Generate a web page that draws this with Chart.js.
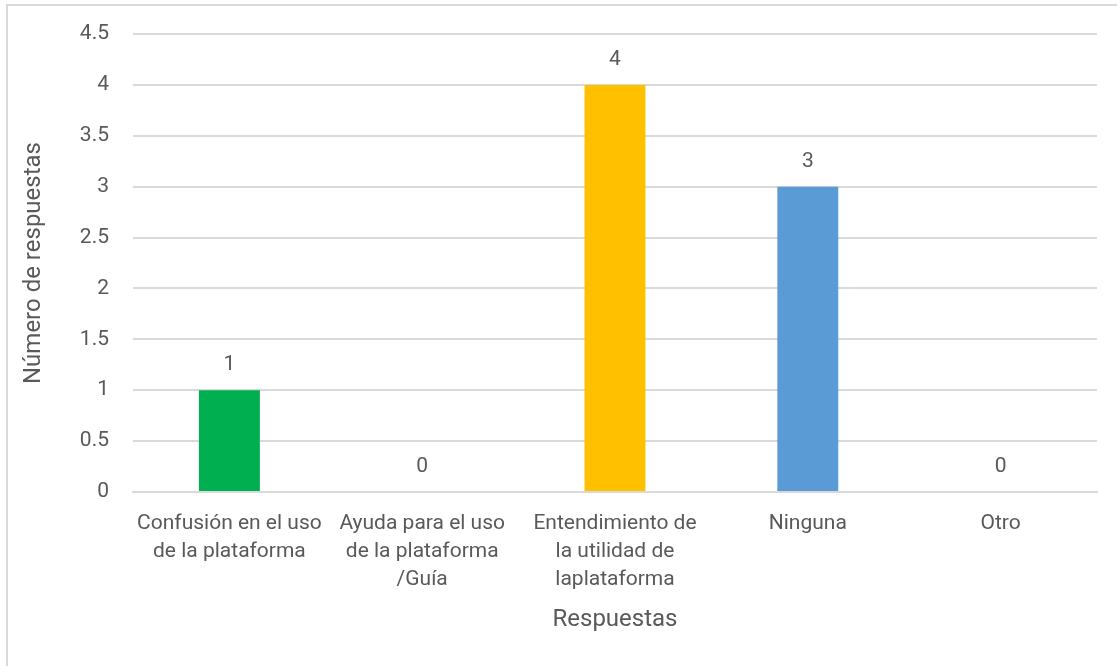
<!DOCTYPE html>
<html>
<head>
<meta charset="utf-8">
<script src="https://cdn.jsdelivr.net/npm/chart.js@4.4.1/dist/chart.umd.min.js"></script>
<style>
  html, body { margin: 0; padding: 0; background: #fff; }
  #wrap { position: relative; width: 1117px; height: 666px; }
</style>
</head>
<body>
<div id="wrap"><canvas id="respChart" width="1117" height="666"></canvas></div>
<script>
// data
const categories = [
  ['Confusión en el uso', 'de la plataforma'],
  ['Ayuda para el uso', 'de la plataforma', '/Guía'],
  ['Entendimiento de', 'la utilidad de', 'laplataforma'],
  'Ninguna',
  'Otro'
];
const respuestas = [1, 0, 4, 3, 0];
const barColors = ['#00B050', '#00B050', '#FFC000', '#5B9BD5', '#5B9BD5'];
const yTicks = [0, 0.5, 1, 1.5, 2, 2.5, 3, 3.5, 4, 4.5];

const textColor = '#595959';
const fontFamily = 'Roboto, "DejaVu Sans Condensed", Arial, sans-serif';

// grey frame on the top and left edge, like the cropped Excel chart
const framePlugin = {
  id: 'frame',
  beforeDraw(chart) {
    const ctx = chart.ctx;
    ctx.save();
    ctx.fillStyle = '#fff';
    ctx.fillRect(0, 0, chart.width, chart.height);
    ctx.strokeStyle = '#d9d9d9';
    ctx.lineWidth = 2;
    ctx.beginPath();
    ctx.moveTo(7, chart.height);
    ctx.lineTo(7, 5);
    ctx.lineTo(chart.width, 5);
    ctx.stroke();
    ctx.restore();
  }
};

// value labels above each bar
const valueLabels = {
  id: 'valueLabels',
  afterDatasetsDraw(chart) {
    const ctx = chart.ctx;
    const meta = chart.getDatasetMeta(0);
    ctx.save();
    ctx.fillStyle = textColor;
    ctx.font = '21px ' + fontFamily;
    ctx.textAlign = 'center';
    ctx.textBaseline = 'middle';
    meta.data.forEach((bar, i) => {
      ctx.fillText(String(respuestas[i]), bar.x, bar.y - 25);
    });
    ctx.restore();
  }
};

new Chart(document.getElementById('respChart'), {
  type: 'bar',
  data: {
    labels: categories,
    datasets: [{
      label: 'Respuestas',
      data: respuestas,
      backgroundColor: barColors,
      borderWidth: 0,
      barPercentage: 0.316,
      categoryPercentage: 1
    }]
  },
  options: {
    responsive: false,
    animation: false,
    events: [],
    layout: { padding: { top: 34, right: 20, bottom: 32, left: 0 } },
    plugins: {
      legend: { display: false },
      tooltip: { enabled: false }
    },
    scales: {
      x: {
        grid: { display: false, drawTicks: false },
        border: { color: '#d9d9d9', width: 2 },
        ticks: { color: textColor, font: { family: fontFamily, size: 21, lineHeight: 1.33 }, padding: 18, maxRotation: 0, autoSkip: false },
        title: { display: true, text: 'Respuestas', color: textColor, font: { family: fontFamily, size: 24 }, padding: 0 },
        afterFit(scale) { scale.height = 666 - 492 - 32; }
      },
      y: {
        min: 0,
        max: 4.5,
        afterBuildTicks(scale) { scale.ticks = yTicks.map(v => ({ value: v })); },
        grid: { color: '#d9d9d9', lineWidth: 2, drawTicks: false },
        border: { display: false },
        ticks: { color: textColor, font: { family: fontFamily, size: 21 }, padding: 24, callback: v => String(v) },
        title: { display: true, text: 'Número de respuestas', color: textColor, font: { family: fontFamily, size: 24 }, padding: { top: 20, bottom: 0 } },
        afterFit(scale) {
          scale.width = 133;
          scale.paddingTop = 0;
          scale.paddingBottom = 0;
        }
      }
    }
  },
  plugins: [framePlugin, valueLabels]
});
</script>
</body>
</html>
